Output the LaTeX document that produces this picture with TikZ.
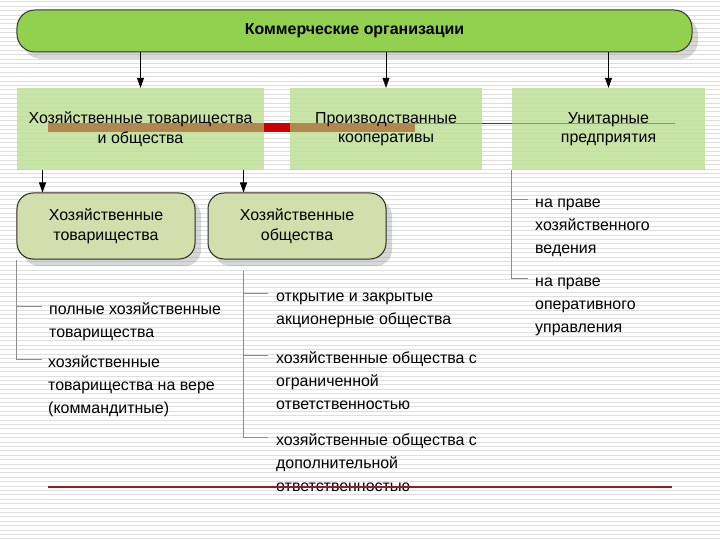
\documentclass[tikz,border=0pt]{standalone}
\usepackage{fontspec}
\setmainfont{Liberation Sans}
\usetikzlibrary{positioning, arrows.meta, shadows, backgrounds}

\definecolor{headgreen}{RGB}{146,208,80}
\definecolor{groupgreen}{RGB}{192,224,152}
\definecolor{kindgreen}{RGB}{210,222,172}
\definecolor{stripegray}{RGB}{222,222,222}
\definecolor{barbrown}{RGB}{178,134,78}
\definecolor{barred}{RGB}{204,0,0}
\definecolor{rulered}{RGB}{150,30,40}

\begin{document}
\begin{tikzpicture}[x=1bp, y=-1bp,
            headnode/.style={rectangle, rounded corners=18bp, draw=black!80, line width=1bp, fill=headgreen, minimum width=675bp, minimum height=42bp, font=\fontsize{16}{18}\selectfont\bfseries, drop shadow={shadow xshift=6bp, shadow yshift=-7bp, opacity=0.3}},
            groupnode/.style={rectangle, minimum height=82bp, align=center, font=\fontsize{16}{19.5}\selectfont},
            kindnode/.style={rectangle, rounded corners=16bp, draw=black!85, line width=1bp, fill=kindgreen, minimum width=178bp, minimum height=66bp, align=center, font=\fontsize{16}{20}\selectfont, drop shadow={shadow xshift=6bp, shadow yshift=-7bp, opacity=0.3}},
            itemnode/.style={anchor=north west, align=left, inner sep=0pt, font=\fontsize{16}{23}\selectfont},
            arrowline/.style={-{Triangle[length=10bp, width=7bp]}, line width=0.6bp},
            treeline/.style={draw=black!45, line width=0.7bp},
            ]
            \useasboundingbox (0,0) rectangle (720,540);

            %Nodes
            \node[headnode] (commerce) at (354.5,31) {Коммерческие организации};
            \node[groupnode, minimum width=247bp] (partner) at (140.5,129) {Хозяйственные товарищества\\ и общества};
            \node[groupnode, minimum width=192bp] (coop) at (386,129) {Производстванные\\ кооперативы};
            \node[groupnode, minimum width=193bp] (unitary) at (608.5,129) {Унитарные\\ предприятия};

            \node[kindnode] (kindA) at (106,226) {Хозяйственные\\ товарищества};
            \node[kindnode] (kindB) at (297,226) {Хозяйственные\\ общества};

            \node[itemnode] (full) at (49,298) {\strut полные хозяйственные\\ товарищества};
            \node[itemnode] (commandit) at (48,351) {\strut хозяйственные\\ товарищества на вере\\ (коммандитные)};
            \node[itemnode] (jointstock) at (276,285) {\strut открытие и закрытые\\ акционерные общества};
            \node[itemnode] (limited) at (276,347) {\strut хозяйственные общества с\\ ограниченной\\ ответственностью};
            \node[itemnode] (additional) at (276,429) {\strut хозяйственные общества с\\ дополнительной\\ ответственностью};
            \node[itemnode] (economic) at (535,191) {\strut на праве\\ хозяйственного\\ ведения};
            \node[itemnode] (operative) at (535,270) {\strut на праве\\ оперативного\\ управления};

            %Background, boxes and bars
            \begin{scope}[on background layer]
              \fill[white] (0,0) rectangle (720,540);
              \foreach \y in {2,6.4,...,540}
                \draw[stripegray, line width=1bp] (0,\y) -- (720,\y);
              \foreach \grp in {partner, coop, unitary}
                \fill[groupgreen, opacity=0.85] (\grp.north west) rectangle (\grp.south east);
              \fill[barbrown] (48,123) rectangle (415,132);
              \fill[barred] (partner.east |- 0,123) rectangle (coop.west |- 0,132);
              \draw[barbrown, line width=0.8bp] (415,123.5) -- (675,123.5);
              \draw[barred, line width=1bp] (coop.east |- 0,123.5) -- (unitary.west |- 0,123.5);
            \end{scope}

            %Lines
            \coordinate (a1) at ([xshift=26bp]kindA.north west);
            \coordinate (b1) at ([xshift=36bp]kindB.north west);
            \coordinate (midtop) at ([yshift=-11bp]kindB.south -| b1);
            \draw[arrowline] (commerce.south -| partner.north) -- (partner.north);
            \draw[arrowline] (commerce.south -| coop.north) -- (coop.north);
            \draw[arrowline] (commerce.south -| unitary.north) -- (unitary.north);
            \draw[arrowline] (partner.south -| a1) -- (a1);
            \draw[arrowline] (partner.south -| b1) -- (b1);

            \draw[treeline] (kindA.south west) |- ([xshift=-7bp, yshift=-8.6bp]full.north west);
            \draw[treeline] (kindA.south west) |- ([xshift=-6bp, yshift=-8.6bp]commandit.north west);
            \draw[treeline] (midtop) |- ([xshift=-8bp, yshift=-8.6bp]jointstock.north west);
            \draw[treeline] (midtop) |- ([xshift=-8bp, yshift=-8.6bp]limited.north west);
            \draw[treeline] (midtop) |- ([xshift=-8bp, yshift=-8.6bp]additional.north west);
            \draw[treeline] (unitary.south west) |- ([xshift=-7bp, yshift=-8.6bp]economic.north west);
            \draw[treeline] (unitary.south west) |- ([xshift=-7bp, yshift=-8.6bp]operative.north west);

            \draw[rulered, line width=1.2bp] (48,487) -- (672,487);
          \end{tikzpicture}
\end{document}
